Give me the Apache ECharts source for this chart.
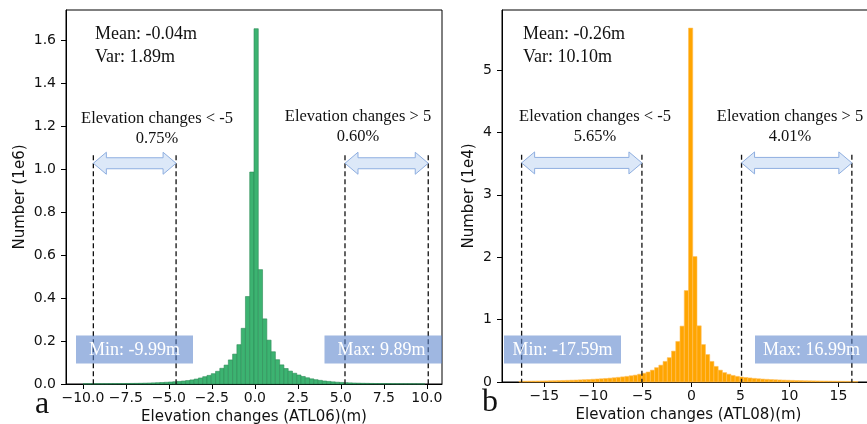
<!DOCTYPE html>
<html>
<head>
<meta charset="utf-8">
<script src="https://cdn.jsdelivr.net/npm/echarts@6/dist/echarts.min.js"></script>
<style>
  html, body { margin: 0; padding: 0; background: #fff; }
  #chart { width: 867px; height: 424px; }
</style>
</head>
<body>
<div id="chart"></div>
<script>
// ATL06 histogram, counts in 1e6, 80 bins between min and max
const atl06Range = [-9.99, 9.89]
const atl06Counts = [
  0.0008, 0.0009, 0.001, 0.0011, 0.0012, 0.0013, 0.0015, 0.0017, 0.0019, 0.0021,
  0.0024, 0.0027, 0.003, 0.0034, 0.0039, 0.0045, 0.0052, 0.006, 0.0069, 0.008,
  0.0092, 0.0106, 0.012, 0.0138, 0.016, 0.019, 0.023, 0.028, 0.034, 0.04,
  0.048, 0.059, 0.073, 0.088, 0.112, 0.139, 0.183, 0.259, 0.407, 0.986,
  1.653, 0.532, 0.303, 0.204, 0.15, 0.113, 0.089, 0.072, 0.06, 0.05,
  0.042, 0.035, 0.029, 0.024, 0.02, 0.017, 0.014, 0.012, 0.01, 0.0085,
  0.0072, 0.0061, 0.0052, 0.0045, 0.0039, 0.0034, 0.003, 0.0026, 0.0023, 0.002,
  0.0018, 0.0016, 0.0014, 0.0012, 0.0011, 0.001, 0.0009, 0.0008, 0.0007, 0.0006
]
const atl06XTicks = [-10, -7.5, -5, -2.5, 0, 2.5, 5, 7.5, 10]
const atl06YTicks = [0, 0.2, 0.4, 0.6, 0.8, 1.0, 1.2, 1.4, 1.6]
const atl06Guides = [-9.39, -4.58, 5.24, 10.08]

// ATL08 histogram, counts in 1e4
const atl08Range = [-17.59, 16.99]
const atl08Counts = [
  0.012, 0.013, 0.014, 0.015, 0.016, 0.017, 0.018, 0.02, 0.021, 0.023,
  0.025, 0.027, 0.029, 0.031, 0.034, 0.037, 0.04, 0.044, 0.048, 0.052,
  0.057, 0.062, 0.068, 0.075, 0.082, 0.09, 0.1, 0.11, 0.125, 0.14,
  0.16, 0.19, 0.23, 0.27, 0.33, 0.39, 0.495, 0.65, 0.895, 1.465,
  5.67, 2.01, 0.9, 0.6, 0.44, 0.33, 0.25, 0.19, 0.15, 0.125,
  0.105, 0.09, 0.08, 0.072, 0.065, 0.058, 0.052, 0.047, 0.043, 0.039,
  0.036, 0.033, 0.03, 0.028, 0.026, 0.024, 0.022, 0.02, 0.019, 0.018,
  0.017, 0.016, 0.015, 0.014, 0.013, 0.012, 0.011, 0.01, 0.009, 0.008
]
const atl08XTicks = [-15, -10, -5, 0, 5, 10, 15]
const atl08YTicks = [0, 1, 2, 3, 4, 5]
const atl08Guides = [-17.32, -5.05, 5.11, 16.36]

const SANS = "DejaVu Sans"
const SERIF = "Liberation Serif"

// histogram bins -> [x0, x1, count]
function toBins(range, counts) {
  const w = (range[1] - range[0]) / counts.length
  return counts.map((c, i) => [range[0] + i * w, range[0] + (i + 1) * w, c])
}

function histRender(fill, stroke) {
  return function (params, api) {
    const p0 = api.coord([api.value(0), api.value(2)])
    const p1 = api.coord([api.value(1), 0])
    return {
      type: "rect",
      shape: { x: p0[0], y: p0[1], width: p1[0] - p0[0], height: p1[1] - p0[1] },
      style: { fill: fill, stroke: stroke, lineWidth: 0.6 }
    }
  }
}

// dashed vertical guide from yTop down to 0
function guideRender(params, api) {
  const a = api.coord([api.value(0), api.value(1)])
  const b = api.coord([api.value(0), 0])
  return {
    type: "line",
    shape: { x1: a[0], y1: a[1], x2: b[0], y2: b[1] },
    style: { stroke: "#111", lineWidth: 1.3, lineDash: [5, 3] }
  }
}

// double headed arrow between two guides
function arrowRender(params, api) {
  const a = api.coord([api.value(0), api.value(2)])
  const b = api.coord([api.value(1), api.value(2)])
  const x0 = a[0], x1 = b[0], y = a[1]
  const hl = 13, hh = 11, sh = 5.5
  return {
    type: "polygon",
    shape: {
      points: [
        [x0, y], [x0 + hl, y - hh], [x0 + hl, y - sh], [x1 - hl, y - sh], [x1 - hl, y - hh],
        [x1, y], [x1 - hl, y + hh], [x1 - hl, y + sh], [x0 + hl, y + sh], [x0 + hl, y + hh]
      ]
    },
    style: { fill: "#dce8f8", stroke: "#8eaee0", lineWidth: 1 }
  }
}

function fmt1(v) {
  return (v < 0 ? "\u2212" : "") + Math.abs(v).toFixed(1)
}
function fmt0(v) {
  return (v < 0 ? "\u2212" : "") + Math.abs(v).toFixed(0)
}

function xAxis(gridIndex, min, max, ticks, formatter, name) {
  return {
    gridIndex: gridIndex,
    type: "value",
    min: min,
    max: max,
    name: name,
    nameLocation: "middle",
    nameGap: 21,
    nameTextStyle: { fontFamily: SANS, fontSize: 15, color: "#111" },
    axisLine: { show: true, onZero: false, lineStyle: { color: "#000", width: 1 } },
    axisTick: { show: true, length: 5, customValues: ticks, lineStyle: { color: "#000" } },
    axisLabel: { customValues: ticks, formatter: formatter, fontFamily: SANS, fontSize: 14, color: "#111", margin: 7 },
    splitLine: { show: false }
  }
}

function yAxis(gridIndex, max, ticks, formatter, name, gap) {
  return {
    gridIndex: gridIndex,
    type: "value",
    min: 0,
    max: max,
    name: name,
    nameLocation: "middle",
    nameRotate: 90,
    nameGap: gap,
    nameTextStyle: { fontFamily: SANS, fontSize: 15, color: "#111" },
    axisLine: { show: true, onZero: false, lineStyle: { color: "#000", width: 1 } },
    axisTick: { show: true, length: 5, customValues: ticks, lineStyle: { color: "#000" } },
    axisLabel: { customValues: ticks, formatter: formatter, fontFamily: SANS, fontSize: 14, color: "#111", margin: 10 },
    splitLine: { show: false }
  }
}

const grid = [
  { left: 66, top: 10, width: 376, height: 374, show: true, borderColor: "#000", borderWidth: 1, containLabel: false, outerBoundsMode: "none" },
  { left: 502, top: 10, width: 373, height: 372, show: true, borderColor: "#000", borderWidth: 1, containLabel: false, outerBoundsMode: "none" }
]

const series = [
  {
    type: "custom", xAxisIndex: 0, yAxisIndex: 0,
    renderItem: histRender("#3cb371", "#2e8b57"),
    encode: { x: [0, 1], y: 2 },
    data: toBins(atl06Range, atl06Counts)
  },
  {
    type: "custom", xAxisIndex: 1, yAxisIndex: 1,
    renderItem: histRender("#ffa500", "#ffc05a"),
    encode: { x: [0, 1], y: 2 },
    data: toBins(atl08Range, atl08Counts)
  },
  {
    type: "custom", xAxisIndex: 0, yAxisIndex: 0, z: 3,
    renderItem: guideRender, encode: { x: 0, y: 1 },
    data: atl06Guides.map(x => [x, 1.064])
  },
  {
    type: "custom", xAxisIndex: 1, yAxisIndex: 1, z: 3,
    renderItem: guideRender, encode: { x: 0, y: 1 },
    data: atl08Guides.map(x => [x, 3.64])
  },
  {
    type: "custom", xAxisIndex: 0, yAxisIndex: 0, z: 4,
    renderItem: arrowRender, encode: { x: [0, 1], y: 2 },
    data: [[atl06Guides[0], atl06Guides[1], 1.027], [atl06Guides[2], atl06Guides[3], 1.027]]
  },
  {
    type: "custom", xAxisIndex: 1, yAxisIndex: 1, z: 4,
    renderItem: arrowRender, encode: { x: [0, 1], y: 2 },
    data: [[atl08Guides[0], atl08Guides[1], 3.51], [atl08Guides[2], atl08Guides[3], 3.51]]
  }
]

function label(text, x, y, size, align) {
  return {
    type: "text", x: x, y: y, z: 10,
    style: { text: text, fontFamily: SERIF, fontSize: size, fill: "#111", align: align || "center", verticalAlign: "middle" }
  }
}
function box(x, y, w, h) {
  return {
    type: "rect", z: 8,
    shape: { x: x, y: y, width: w, height: h },
    style: { fill: "rgba(95,135,205,0.6)" }
  }
}
function boxText(text, x, y, align) {
  return {
    type: "text", x: x, y: y, z: 9,
    style: { text: text, fontFamily: SERIF, fontSize: 18, fill: "#fff", align: align, verticalAlign: "middle" }
  }
}

const graphic = [
  label("Mean: -0.04m", 95, 34, 18, "left"),
  label("Var: 1.89m", 95, 57, 18, "left"),
  label("Elevation changes < -5", 157, 119, 16.5),
  label("0.75%", 157, 139, 16.5),
  label("Elevation changes > 5", 358, 117, 16.5),
  label("0.60%", 358, 137, 16.5),
  box(76, 335.5, 117, 28),
  boxText("Min: -9.99m", 134.5, 350, "center"),
  box(324.5, 335.5, 117.5, 28),
  boxText("Max: 9.89m", 337.5, 350, "left"),
  label("a", 42, 405, 32),

  label("Mean: -0.26m", 523, 34, 18, "left"),
  label("Var: 10.10m", 523, 57, 18, "left"),
  label("Elevation changes < -5", 595, 117, 16.5),
  label("5.65%", 595, 137, 16.5),
  label("Elevation changes > 5", 790, 117, 16.5),
  label("4.01%", 790, 137, 16.5),
  box(504, 335.5, 117, 28),
  boxText("Min: -17.59m", 562.5, 350, "center"),
  box(755, 335.5, 120, 28),
  boxText("Max: 16.99m", 763, 350, "left"),
  label("b", 490, 403, 32)
]

const chart = echarts.init(document.getElementById("chart"), null, { renderer: "canvas" })
chart.setOption({
  animation: false,
  backgroundColor: "#fff",
  grid: grid,
  xAxis: [
    xAxis(0, -10.98, 10.88, atl06XTicks, fmt1, "Elevation changes (ATL06)(m)"),
    xAxis(1, -19.32, 18.72, atl08XTicks, fmt0, "Elevation changes (ATL08)(m)")
  ],
  yAxis: [
    yAxis(0, 1.74, atl06YTicks, fmt1, "Number (1e6)", 38.5),
    yAxis(1, 5.96, atl08YTicks, fmt0, "Number (1e4)", 25.5)
  ],
  series: series,
  graphic: graphic
})
</script>
</body>
</html>
